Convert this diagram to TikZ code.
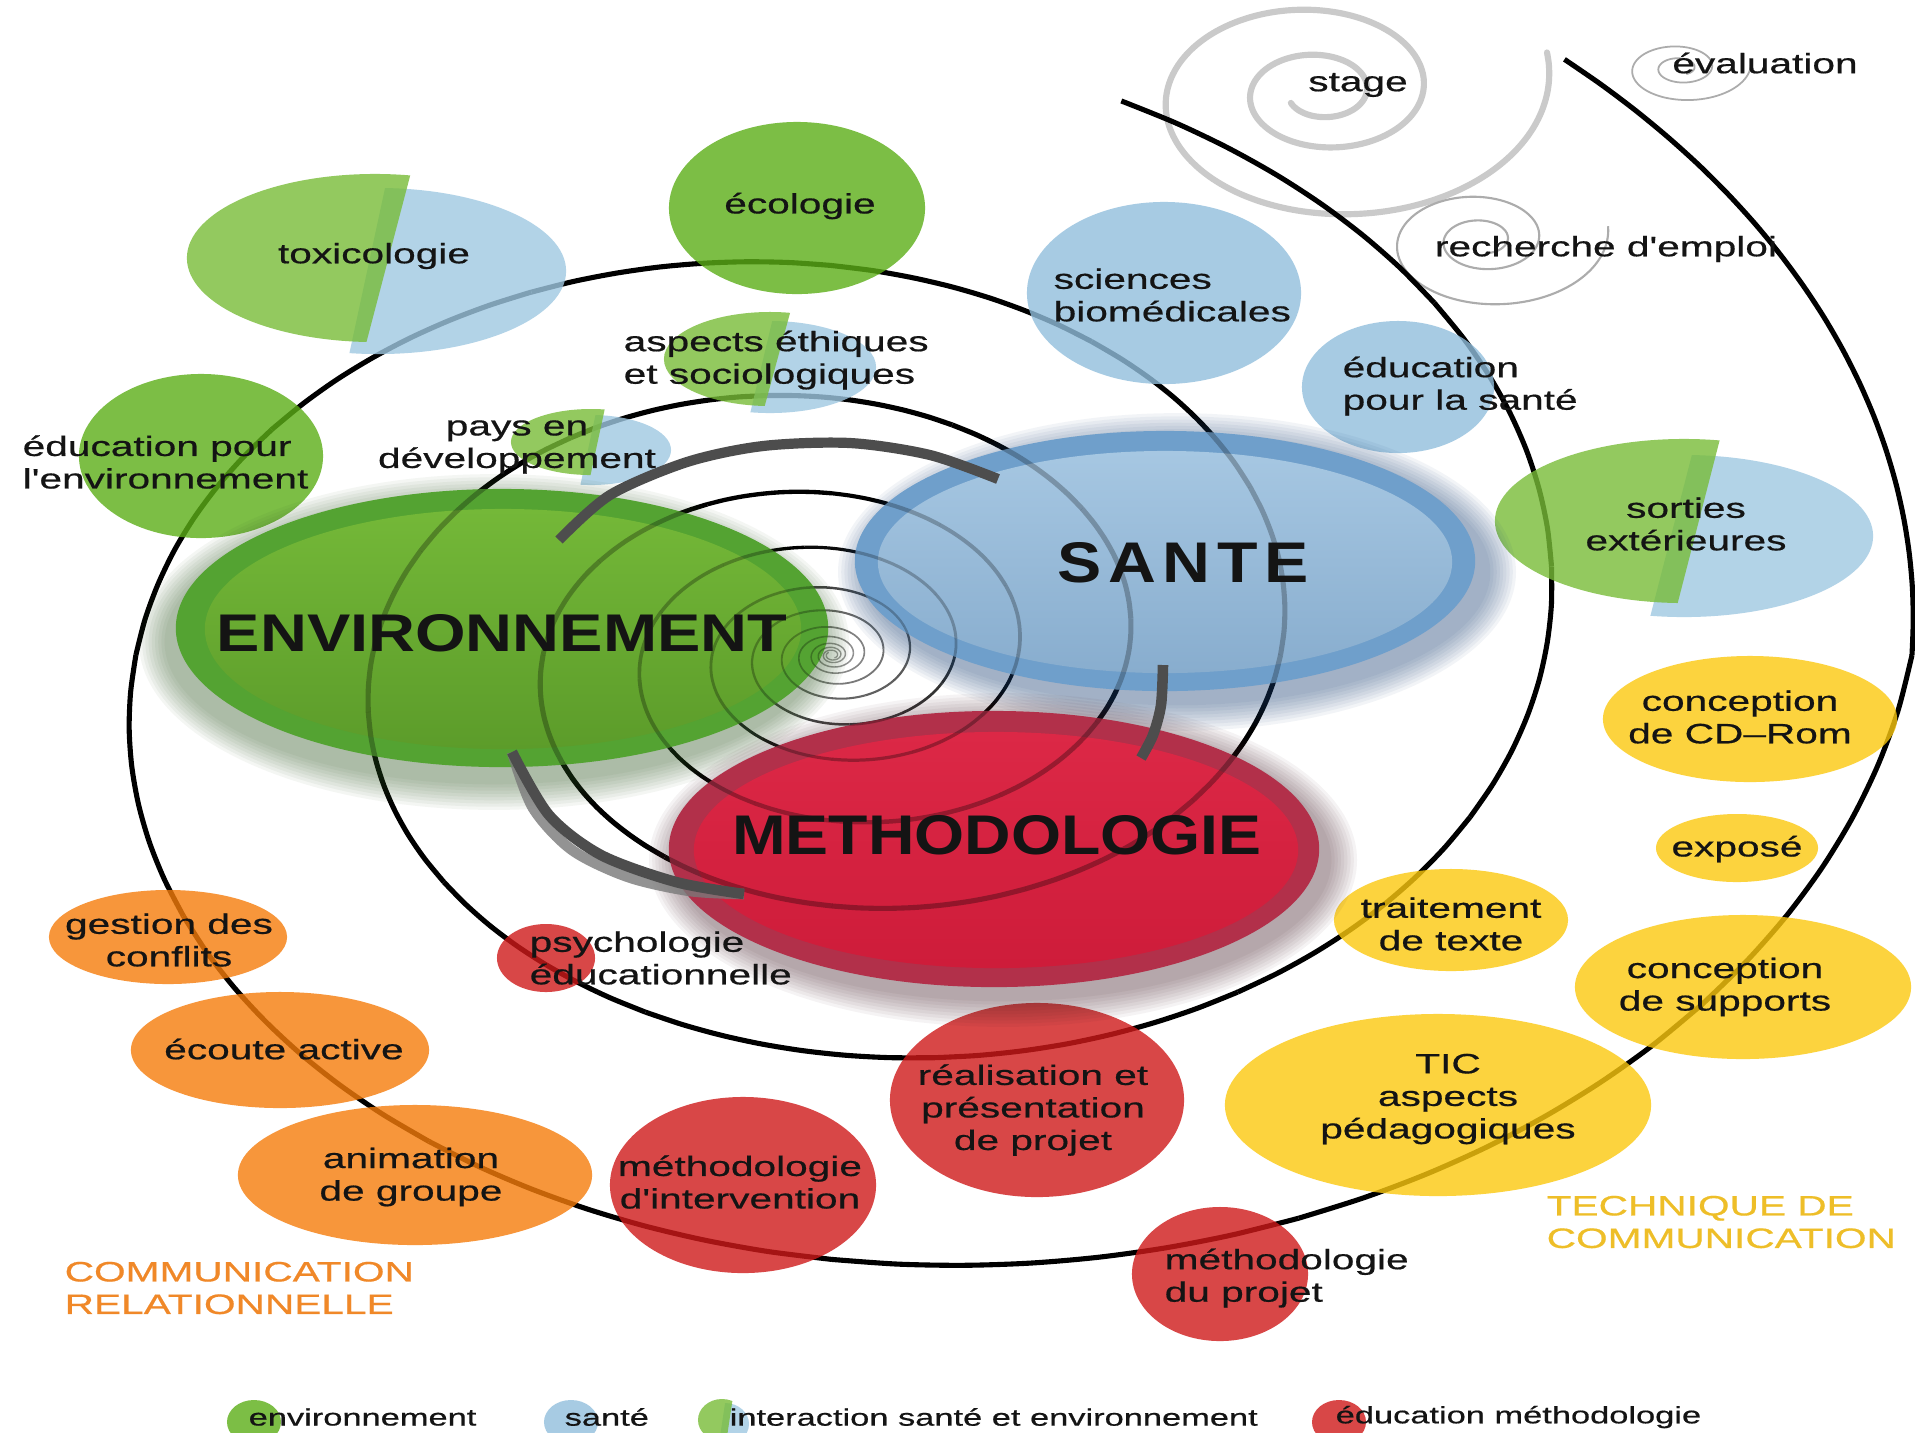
\documentclass[tikz,border=0pt]{standalone}
\usepackage{fontspec}
\setmainfont{Liberation Sans}
\newfontfamily\lblfamily{Liberation Sans}[FakeStretch=1.45, FakeBold=0.6]
\newfontfamily\titlefamily{Liberation Sans}[FakeStretch=1.2]
\usepackage{graphicx}

% bubble colours (used at 80% opacity)
\definecolor{cgreen}{RGB}{92,174,23}
\definecolor{cblue}{RGB}{146,191,221}
\definecolor{cred}{RGB}{207,26,26}
\definecolor{corange}{RGB}{245,124,11}
\definecolor{cyellow}{RGB}{252,201,14}
\definecolor{lgreen}{RGB}{120,188,56}
\definecolor{lblue}{RGB}{159,200,226}
% main ellipses
\definecolor{envring}{RGB}{84,163,50}
\definecolor{envtop}{RGB}{116,184,56}
\definecolor{envbot}{RGB}{92,156,42}
\definecolor{envshadow}{RGB}{45,85,30}
\definecolor{santering}{RGB}{111,159,203}
\definecolor{santetop}{RGB}{166,199,226}
\definecolor{santebot}{RGB}{136,173,206}
\definecolor{santeshadow}{RGB}{30,70,120}
\definecolor{methring}{RGB}{178,48,74}
\definecolor{methtop}{RGB}{220,40,70}
\definecolor{methbot}{RGB}{206,28,58}
\definecolor{methshadow}{RGB}{70,30,40}
% lines and text
\definecolor{arcgray}{RGB}{77,77,77}
\definecolor{spgray}{RGB}{202,202,202}
\definecolor{txt}{RGB}{20,20,20}
\definecolor{comorange}{RGB}{240,136,40}
\definecolor{comyellow}{RGB}{238,190,40}

\newcommand\lblfont{\lblfamily\fontsize{7.97}{9.25}\selectfont}
\newcommand\legfont{\lblfamily\fontsize{6.75}{8}\selectfont}

% two interleaved logarithmic spiral arms around (832,655)
\newcommand\spiralarms[1]{%
  \draw[line width=1.45pt, #1] plot[domain=-49.4:0, samples=20, smooth]
    ({832+1080*(1-0.00085*\x)*cos(\x)},{655+752.8*(1-0.00085*\x)*sin(\x)});
  \foreach \a in {0,30,...,2190}{%
    \pgfmathsetmacro\spR{1080*exp(-0.002435*(\a+15))}%
    \pgfmathsetmacro\spw{0.35+1.1*min(1,\spR/300)}%
    \pgfmathsetmacro\spo{min(1,0.35+\spR/250)}%
    \pgfmathsetmacro\spb{\a+30}%
    \draw[line width=\spw pt, draw opacity=\spo, #1] plot[domain=\a:\spb, samples=8, smooth]
      ({832+1080*exp(-0.002435*\x)*cos(\x)},{655+752.8*exp(-0.002435*\x)*sin(\x)});
  }%
  \foreach \a in {-70,-40,...,2010}{%
    \pgfmathsetmacro\spR{713*exp(-0.002435*(\a+15))}%
    \pgfmathsetmacro\spw{0.35+1.1*min(1,\spR/300)}%
    \pgfmathsetmacro\spo{min(1,0.35+\spR/250)}%
    \pgfmathsetmacro\spb{\a+30}%
    \draw[line width=\spw pt, draw opacity=\spo, #1] plot[domain=\a:\spb, samples=8, smooth]
      ({832+713*exp(-0.002435*\x)*cos(\x)},{655+497*exp(-0.002435*\x)*sin(\x)});
  }%
}

% soft shadow: centre x, centre y, x radius (cm), y radius (cm), colour, layer opacity
\newcommand\softshadow[6]{%
  \foreach \k in {1,...,9}{%
    \fill[#5, fill opacity=#6] (#1,#2) ellipse [x radius={#3cm+\k*0.032cm}, y radius={#4cm+\k*0.032cm}];
  }%
}

\tikzset{
  lbl/.style={font=\lblfont, text=txt, inner sep=0pt, align=center},
  lbll/.style={lbl, align=left, anchor=west},
  leg/.style={font=\legfont, text=txt, inner sep=0pt, anchor=west},
  bubble/.style={fill opacity=0.8},
  cyclearc/.style={arcgray, line width=2.9pt, line cap=butt},
  title/.style={text=txt, inner sep=0pt, font=\titlefamily\bfseries},
}

\begin{document}
\begin{tikzpicture}[x=0.01cm,y=-0.01cm]
\useasboundingbox (0,0) rectangle (1915,1432);
\fill[white] (0,0) rectangle (1915,1432);

% ---------- light grey spirals at the top ----------
\draw[spgray, line width=1.75pt, line cap=round] plot[domain=-15:870, samples=240, smooth]
  ({1320+235*exp(-0.0022*(\x+15))*cos(\x)},{92+152.75*exp(-0.0022*(\x+15))*sin(\x)});
\draw[spgray!85!black, line width=0.6pt] plot[domain=-10:800, samples=220, smooth]
  ({1482+128*exp(-0.0022*(\x+10))*cos(\x)},{240+79.4*exp(-0.0022*(\x+10))*sin(\x)});
\draw[spgray!85!black, line width=0.5pt] plot[domain=-10:780, samples=200, smooth]
  ({1680+72*exp(-0.0022*(\x+10))*cos(\x)},{68+39.6*exp(-0.0022*(\x+10))*sin(\x)});

% ---------- black double spiral ----------
\spiralarms{}

% ---------- two-coloured bubbles (santé + environnement) ----------
% toxicologie
\begin{scope}
  \clip (404,100) -- (700,100) -- (700,420) -- (335,420) -- cycle;
  \fill[lblue, bubble] (378,271) ellipse [x radius=1.88cm, y radius=0.83cm];
\end{scope}
\begin{scope}
  \clip (0,100) -- (430,100) -- (346,420) -- (0,420) -- cycle;
  \fill[lgreen, bubble] (375,258) ellipse [x radius=1.88cm, y radius=0.84cm];
\end{scope}
% aspects ethiques
\begin{scope}
  \clip (782,280) -- (950,280) -- (950,460) -- (739,460) -- cycle;
  \fill[lblue, bubble] (770,367) ellipse [x radius=1.06cm, y radius=0.46cm];
\end{scope}
\begin{scope}
  \clip (600,280) -- (799,280) -- (750,460) -- (600,460) -- cycle;
  \fill[lgreen, bubble] (770,359) ellipse [x radius=1.06cm, y radius=0.47cm];
\end{scope}
% pays en developpement
\begin{scope}
  \clip (603,380) -- (700,380) -- (700,510) -- (575,510) -- cycle;
  \fill[lblue, bubble] (591,450) ellipse [x radius=0.80cm, y radius=0.35cm];
\end{scope}
\begin{scope}
  \clip (480,380) -- (611,380) -- (583,510) -- (480,510) -- cycle;
  \fill[lgreen, bubble] (591,442) ellipse [x radius=0.80cm, y radius=0.33cm];
\end{scope}
% sorties exterieures
\begin{scope}
  \clip (1706,400) -- (1910,400) -- (1910,660) -- (1639,660) -- cycle;
  \fill[lblue, bubble] (1684,536) ellipse [x radius=1.89cm, y radius=0.81cm];
\end{scope}
\begin{scope}
  \clip (1480,400) -- (1730,400) -- (1663,660) -- (1480,660) -- cycle;
  \fill[lgreen, bubble] (1684,521) ellipse [x radius=1.89cm, y radius=0.82cm];
\end{scope}

% ---------- plain bubbles ----------
\fill[cgreen, bubble] (797,208) ellipse [x radius=1.28cm, y radius=0.86cm];
\fill[cgreen, bubble] (201,456) ellipse [x radius=1.22cm, y radius=0.82cm];
\fill[cblue, bubble] (1164,293) ellipse [x radius=1.37cm, y radius=0.91cm];
\fill[cblue, bubble] (1398,387) ellipse [x radius=0.96cm, y radius=0.66cm];
\fill[cyellow, bubble] (1750,719) ellipse [x radius=1.47cm, y radius=0.63cm];
\fill[cyellow, bubble] (1737,848) ellipse [x radius=0.81cm, y radius=0.34cm];
\fill[cyellow, bubble] (1743,987) ellipse [x radius=1.68cm, y radius=0.72cm];
\fill[cyellow, bubble] (1451,920) ellipse [x radius=1.17cm, y radius=0.51cm];
\fill[cyellow, bubble] (1438,1105) ellipse [x radius=2.13cm, y radius=0.91cm];
\fill[cred, bubble] (1220,1274) ellipse [x radius=0.88cm, y radius=0.67cm];
\fill[cred, bubble] (1037,1100) ellipse [x radius=1.47cm, y radius=0.97cm];
\fill[cred, bubble] (743,1185) ellipse [x radius=1.33cm, y radius=0.88cm];
\fill[cred, bubble] (546,958) ellipse [x radius=0.49cm, y radius=0.34cm];
\fill[corange, bubble] (168,937) ellipse [x radius=1.19cm, y radius=0.47cm];
\fill[corange, bubble] (280,1050) ellipse [x radius=1.49cm, y radius=0.58cm];
\fill[corange, bubble] (415,1175) ellipse [x radius=1.77cm, y radius=0.70cm];

% ---------- ENVIRONNEMENT ----------
\softshadow{494}{642}{3.26}{1.39}{envshadow}{0.05}
\fill[envring] (502,628) ellipse [x radius=3.26cm, y radius=1.39cm];
\shade[top color=envtop, bottom color=envbot] (503,629) ellipse [x radius=2.98cm, y radius=1.20cm];
\begin{scope}
  \clip (502,628) ellipse [x radius=3.26cm, y radius=1.39cm];
  \spiralarms{draw opacity=0.28}
\end{scope}

% ---------- SANTE ----------
\softshadow{1177}{572}{3.10}{1.30}{santeshadow}{0.055}
\fill[santering] (1165,561) ellipse [x radius=3.10cm, y radius=1.30cm];
\shade[top color=santetop, bottom color=santebot] (1165,562) ellipse [x radius=2.87cm, y radius=1.11cm];
\begin{scope}
  \clip (1165,561) ellipse [x radius=3.10cm, y radius=1.30cm];
  \spiralarms{draw opacity=0.25}
\end{scope}

% ---------- METHODOLOGIE ----------
\softshadow{1003}{860}{3.25}{1.38}{methshadow}{0.05}
\fill[methring] (994,849) ellipse [x radius=3.25cm, y radius=1.38cm];
\shade[top color=methtop, bottom color=methbot] (996,850) ellipse [x radius=3.02cm, y radius=1.18cm];
\begin{scope}
  \clip (994,849) ellipse [x radius=3.25cm, y radius=1.38cm];
  \spiralarms{draw opacity=0.3}
\end{scope}

% ---------- cycle arcs between the three domains ----------
\draw[cyclearc] plot[smooth] coordinates {(559,540) (610,495) (687,462) (763,446) (850,443) (930,455) (998,479)};
\draw[cyclearc, line width=3pt] plot[smooth] coordinates {(1163,665) (1161,705) (1153,735) (1141,758)};
\draw[arcgray!75, line width=3pt, draw opacity=0.8] plot[smooth] coordinates {(512,752) (533,808) (572,850) (628,877) (690,891) (744,894)};
\draw[cyclearc, line width=3pt] plot[smooth] coordinates {(512,752) (549,815) (601,855) (676,882) (744,894)};

% ---------- main titles ----------
\node[title] (env) at (502,633) {\resizebox{5.70cm}{0.37cm}{ENVIRONNEMENT}};
\node[title] (sante) at (1183,563) {\resizebox{2.51cm}{0.40cm}{\addfontfeatures{LetterSpace=12}SANTE}};
\node[title] (meth) at (997,835) {\resizebox{5.29cm}{0.39cm}{METHODOLOGIE}};

% ---------- labels ----------
\node[lbl] (tox) at (374,256) {toxicologie};
\node[lbl] (eco) at (800,206) {écologie};
\node[lbll] (ethic) at (623,360) {aspects éthiques\\et sociologiques};
\node[lbl] (pays) at (517,447) {pays en\\développement};
\node[lbll] (edenv) at (22,462) {éducation pour\\l'environnement};
\node[lbll] (scibio) at (1053,295) {sciences\\biomédicales};
\node[lbll] (edsante) at (1342,386) {éducation\\pour la santé};
\node[lbl] (stage) at (1358,85) {stage};
\node[lbl] (eval) at (1765,63) {évaluation};
\node[lbl] (emploi) at (1606,249) {recherche d'emploi};
\node[lbl] (sorties) at (1686,524) {sorties\\extérieures};
\node[lbl] (cdrom) at (1740,717) {conception\\de CD–Rom};
\node[lbl] (expose) at (1737,849) {exposé};
\node[lbl] (texte) at (1451,924) {traitement\\de texte};
\node[lbl] (supports) at (1725,987) {conception\\de supports};
\node[lbl] (tic) at (1448,1099) {TIC\\aspects\\pédagogiques};
\node[lbll, text=comyellow] (techcom) at (1546,1222) {TECHNIQUE DE\\COMMUNICATION};
\node[lbll] (mproj) at (1164,1278) {méthodologie\\du projet};
\node[lbl] (real) at (1033,1110) {réalisation et\\présentation\\de projet};
\node[lbl] (minterv) at (740,1182) {méthodologie\\d'intervention};
\node[lbll] (psy) at (529,958) {psychologie\\éducationnelle};
\node[lbl] (gestion) at (169,940) {gestion des\\conflits};
\node[lbl] (ecoute) at (284,1049) {écoute active};
\node[lbl] (anim) at (411,1177) {animation\\de groupe};
\node[lbll, text=comorange] (comrel) at (64,1288) {COMMUNICATION\\RELATIONNELLE};

% ---------- legend ----------
\fill[cgreen, bubble] (254,1422) ellipse [x radius=0.27cm, y radius=0.22cm];
\fill[cblue, bubble] (571,1422) ellipse [x radius=0.27cm, y radius=0.22cm];
\begin{scope}
  \clip (727,1390) -- (760,1390) -- (760,1450) -- (718,1450) -- cycle;
  \fill[lblue, bubble] (725,1424) ellipse [x radius=0.24cm, y radius=0.21cm];
\end{scope}
\begin{scope}
  \clip (690,1390) -- (734,1390) -- (725,1450) -- (690,1450) -- cycle;
  \fill[lgreen, bubble] (722,1420) ellipse [x radius=0.24cm, y radius=0.21cm];
\end{scope}
\fill[cred, bubble] (1339,1422) ellipse [x radius=0.27cm, y radius=0.22cm];
\node[leg] (legenv) at (248,1417) {environnement};
\node[leg] (legsante) at (564,1417) {santé};
\node[leg] (leginter) at (729,1417) {interaction santé et environnement};
\node[leg] (legmeth) at (1335,1417) {éducation méthodologie};
\end{tikzpicture}
\end{document}
